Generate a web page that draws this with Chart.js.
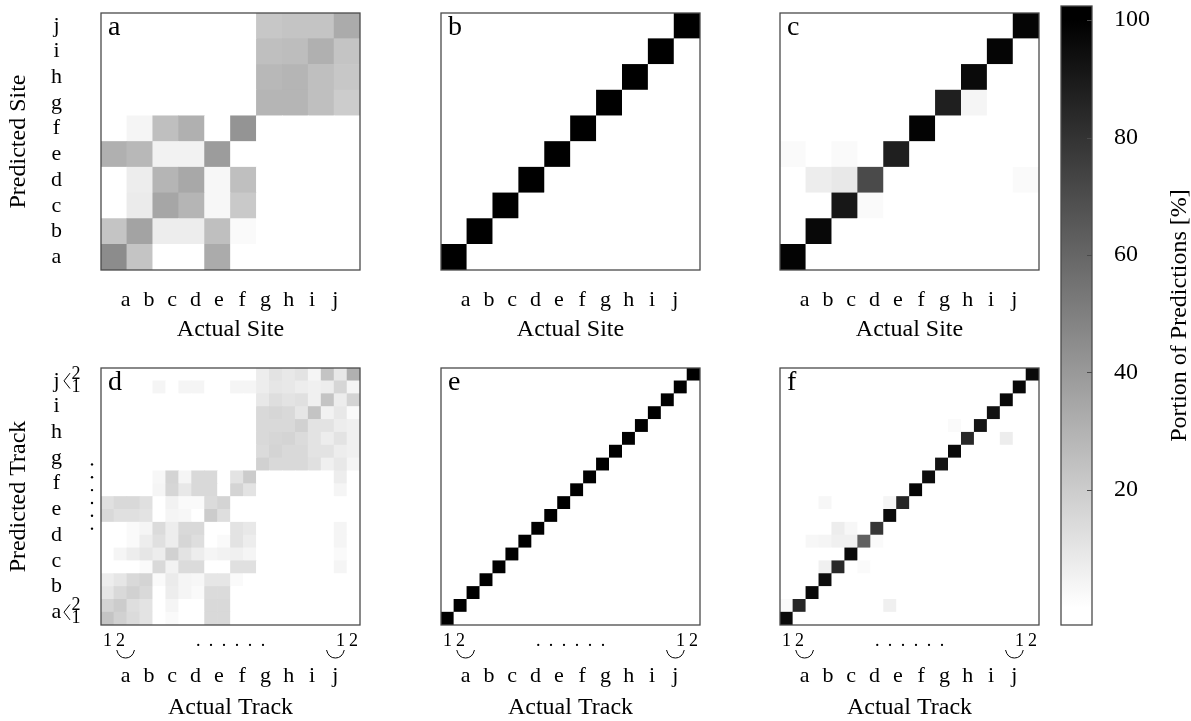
<!DOCTYPE html>
<html>
<head>
<meta charset="utf-8">
<script src="https://cdn.jsdelivr.net/npm/chart.js@4.4.0/dist/chart.umd.min.js"></script>
<style>
  html, body { margin: 0; background: #fff; }
  #wrap { position: relative; width: 1191px; height: 721px; overflow: hidden; background: #fff; }
  canvas { position: absolute; }
</style>
</head>
<body>
<div id="wrap">
  <canvas id="pa"></canvas>
  <canvas id="pb"></canvas>
  <canvas id="pc"></canvas>
  <canvas id="pd"></canvas>
  <canvas id="pe"></canvas>
  <canvas id="pf"></canvas>
  <canvas id="cb"></canvas>
</div>
<script>
// ---- data ----
const siteLetters = ['a', 'b', 'c', 'd', 'e', 'f', 'g', 'h', 'i', 'j'];
// labels of the 20 tracks (two per site), shown on the track panels
const trackTicks = ['1', '2', '', '', '', '', '', '.', '.', '.', '.', '.', '.', '', '', '', '', '', '1', '2'];
const cbTicks = [20, 40, 60, 80, 100];
const cbRange = [-3, 102.4];
const cbTitle = 'Portion of Predictions [%]';

// rows = predicted (bottom 'a' first), columns = actual (a..j), values in %
const siteA = [
  [45, 23, 0, 0, 33, 0, 0, 0, 0, 0],
  [23, 36, 7, 7, 25, 2, 0, 0, 0, 0],
  [0, 8, 35, 29, 3, 21, 0, 0, 0, 0],
  [0, 7, 29, 34, 3, 25, 0, 0, 0, 0],
  [31, 28, 5, 5, 39, 0, 0, 0, 0, 0],
  [0, 4, 25, 31, 0, 42, 0, 0, 0, 0],
  [0, 0, 0, 0, 0, 0, 29, 29, 25, 20],
  [0, 0, 0, 0, 0, 0, 28, 29, 25, 22],
  [0, 0, 0, 0, 0, 0, 25, 26, 31, 23],
  [0, 0, 0, 0, 0, 0, 22, 23, 23, 33]
];
const siteBDiag = [100, 100, 100, 100, 100, 100, 100, 100, 100, 100];
const siteC = [
  [99, 0, 0, 0, 0, 0, 0, 0, 0, 0],
  [0, 97, 0, 0, 0, 0, 0, 0, 0, 0],
  [0, 0, 91, 2, 0, 0, 0, 0, 0, 0],
  [0, 7, 9, 71, 0, 0, 0, 0, 0, 2],
  [2, 0, 2, 0, 88, 0, 0, 0, 0, 0],
  [0, 0, 0, 0, 0, 99, 0, 0, 0, 0],
  [0, 0, 0, 0, 0, 0, 88, 4, 0, 0],
  [0, 0, 0, 0, 0, 0, 0, 96, 0, 0],
  [0, 0, 0, 0, 0, 0, 0, 0, 98, 0],
  [0, 0, 0, 0, 0, 0, 0, 0, 0, 98]
];
const trackD = [
  [23, 18, 14, 11, 0, 2, 0, 0, 15, 15, 0, 0, 0, 0, 0, 0, 0, 0, 0, 0],
  [17, 20, 13, 11, 0, 4, 0, 0, 15, 15, 0, 0, 0, 0, 0, 0, 0, 0, 0, 0],
  [10, 15, 18, 15, 0, 7, 4, 2, 14, 14, 0, 0, 0, 0, 0, 0, 0, 0, 0, 0],
  [7, 10, 15, 17, 2, 8, 4, 3, 10, 10, 2, 0, 0, 0, 0, 0, 0, 0, 0, 0],
  [0, 0, 0, 2, 15, 5, 14, 14, 0, 0, 12, 12, 0, 0, 0, 0, 0, 0, 4, 0],
  [0, 4, 7, 10, 7, 18, 11, 7, 4, 5, 6, 4, 0, 0, 0, 0, 0, 0, 2, 0],
  [0, 0, 2, 7, 12, 7, 16, 13, 0, 2, 11, 7, 0, 0, 0, 0, 0, 0, 4, 0],
  [0, 0, 2, 4, 14, 7, 15, 15, 0, 0, 11, 9, 0, 0, 0, 0, 0, 0, 4, 0],
  [15, 12, 12, 11, 0, 4, 3, 0, 20, 13, 0, 0, 0, 0, 0, 0, 0, 0, 0, 0],
  [12, 15, 15, 12, 0, 5, 2, 2, 14, 17, 0, 0, 0, 0, 0, 0, 0, 0, 0, 0],
  [0, 0, 0, 0, 4, 16, 9, 15, 15, 0, 17, 11, 0, 0, 0, 0, 0, 0, 4, 0],
  [0, 0, 0, 0, 3, 17, 4, 15, 15, 0, 11, 20, 0, 0, 0, 0, 0, 0, 7, 0],
  [0, 0, 0, 0, 0, 0, 0, 0, 0, 0, 0, 0, 18, 15, 15, 15, 12, 6, 9, 4],
  [0, 0, 0, 0, 0, 0, 0, 0, 0, 0, 0, 0, 14, 17, 15, 15, 11, 11, 7, 6],
  [0, 0, 0, 0, 0, 0, 0, 0, 0, 0, 0, 0, 15, 16, 17, 14, 11, 7, 11, 6],
  [0, 0, 0, 0, 0, 0, 0, 0, 0, 0, 0, 0, 15, 15, 15, 18, 11, 11, 7, 6],
  [0, 0, 0, 0, 0, 0, 0, 0, 0, 0, 0, 0, 15, 16, 15, 10, 23, 5, 9, 2],
  [0, 0, 0, 0, 0, 0, 0, 0, 0, 0, 0, 0, 9, 13, 11, 12, 6, 23, 7, 17],
  [0, 0, 0, 0, 4, 0, 4, 4, 0, 0, 4, 4, 7, 10, 9, 7, 6, 7, 16, 4],
  [0, 0, 0, 0, 0, 0, 0, 0, 0, 0, 0, 0, 7, 11, 9, 11, 4, 23, 9, 31]
];
const trackEDiag = [100, 100, 100, 100, 100, 100, 100, 100, 100, 100,
                    100, 100, 100, 100, 100, 100, 100, 100, 100, 100];
const trackF = [
  [96, 0, 0, 0, 0, 0, 0, 0, 0, 0, 0, 0, 0, 0, 0, 0, 0, 0, 0, 0],
  [2, 85, 0, 0, 0, 0, 0, 0, 6, 0, 0, 0, 0, 0, 0, 0, 0, 0, 0, 0],
  [0, 0, 96, 0, 0, 0, 0, 0, 0, 0, 0, 0, 0, 0, 0, 0, 0, 0, 0, 0],
  [0, 0, 0, 95, 0, 0, 0, 0, 0, 0, 0, 0, 0, 0, 0, 0, 0, 0, 0, 0],
  [0, 0, 0, 6, 84, 0, 2, 0, 0, 0, 0, 0, 0, 0, 0, 0, 0, 0, 0, 0],
  [0, 0, 0, 0, 0, 96, 0, 0, 0, 0, 0, 0, 0, 0, 0, 0, 0, 0, 0, 0],
  [0, 0, 3, 4, 6, 6, 62, 2, 0, 0, 0, 0, 0, 0, 0, 0, 0, 0, 0, 0],
  [0, 0, 0, 0, 7, 3, 0, 79, 0, 0, 0, 0, 0, 0, 0, 0, 0, 0, 0, 0],
  [0, 0, 0, 0, 0, 0, 0, 0, 96, 0, 0, 0, 0, 0, 0, 0, 0, 0, 0, 0],
  [0, 0, 0, 3, 0, 0, 0, 0, 4, 85, 0, 0, 0, 0, 0, 0, 0, 0, 0, 0],
  [0, 0, 0, 0, 0, 0, 0, 0, 0, 0, 98, 0, 0, 0, 0, 0, 0, 0, 0, 0],
  [0, 0, 0, 0, 0, 0, 0, 0, 0, 0, 0, 95, 0, 0, 0, 0, 0, 0, 0, 0],
  [0, 0, 0, 0, 0, 0, 0, 0, 0, 0, 0, 0, 92, 0, 0, 0, 0, 0, 0, 0],
  [0, 0, 0, 0, 0, 0, 0, 0, 0, 0, 0, 0, 0, 96, 0, 0, 0, 0, 0, 0],
  [0, 0, 0, 0, 0, 0, 0, 0, 0, 0, 0, 0, 0, 0, 84, 0, 0, 7, 0, 0],
  [0, 0, 0, 0, 0, 0, 0, 0, 0, 0, 0, 0, 0, 2, 0, 92, 0, 0, 0, 0],
  [0, 0, 0, 0, 0, 0, 0, 0, 0, 0, 0, 0, 0, 0, 0, 0, 93, 0, 0, 0],
  [0, 0, 0, 0, 0, 0, 0, 0, 0, 0, 0, 0, 0, 0, 0, 0, 0, 97, 0, 0],
  [0, 0, 0, 0, 0, 0, 0, 0, 0, 0, 0, 0, 0, 0, 0, 0, 0, 0, 97, 0],
  [0, 0, 0, 0, 0, 0, 0, 0, 0, 0, 0, 0, 0, 0, 0, 0, 0, 0, 0, 96]
];

// ---- helpers ----
const serif = "'Liberation Serif', 'DejaVu Serif', serif";

function gray(v) {
  const g = Math.round(255 * (1 - Math.max(0, Math.min(v, 100)) / 100));
  return `rgb(${g},${g},${g})`;
}

function fromDiag(diag) {
  return diag.map((v, r) => diag.map((_, c) => (r === c ? v : 0)));
}

const framePlugin = {
  id: 'frame',
  afterDatasetsDraw(chart) {
    const { ctx, chartArea: a } = chart;
    ctx.save();
    ctx.strokeStyle = '#4a4a4a';
    ctx.lineWidth = 1.3;
    ctx.strokeRect(a.left, a.top, a.right - a.left, a.bottom - a.top);
    ctx.restore();
  }
};

const tagPlugin = {
  id: 'tag',
  afterDraw(chart, args, opts) {
    if (!opts.text) return;
    const { ctx, chartArea: a } = chart;
    ctx.save();
    ctx.font = `28px ${serif}`;
    ctx.fillStyle = '#000';
    ctx.textBaseline = 'alphabetic';
    ctx.fillText(opts.text, a.left + 7, a.top + 22);
    ctx.restore();
  }
};

// braces under the track pairs, and the track marks beside the y letters
const trackPlugin = {
  id: 'trackMarks',
  afterDraw(chart, args, opts) {
    if (!opts.on) return;
    const { ctx, chartArea: a } = chart;
    const xs = chart.scales.xl, ys = chart.scales.yl;
    ctx.save();
    ctx.strokeStyle = '#000';
    ctx.fillStyle = '#000';
    ctx.lineWidth = 1;
    [0, 9].forEach(k => {
      const x1 = xs.getPixelForValue(k + 0.12), x2 = xs.getPixelForValue(k + 0.88);
      const xm = (x1 + x2) / 2, y0 = a.bottom + 25, d = 8;
      ctx.beginPath();
      ctx.moveTo(x1, y0);
      ctx.quadraticCurveTo(x1 + 2, y0 + d, xm, y0 + d);
      ctx.quadraticCurveTo(x2 - 2, y0 + d, x2, y0);
      ctx.stroke();
    });
    if (opts.ySide) {
      ctx.font = `18px ${serif}`;
      ctx.textAlign = 'center';
      ctx.textBaseline = 'middle';
      trackTicks.forEach((t, i) => {
        const y = ys.getPixelForValue((i + 0.5) / 2);
        if (t === '.') {
          ctx.beginPath();
          ctx.arc(a.left - 9, y, 1.2, 0, Math.PI * 2);
          ctx.fill();
        } else if (t) {
          ctx.fillText(t, a.left - 25, y);
        }
      });
      [0, 9].forEach(k => {
        const yt = ys.getPixelForValue(k + 0.8), yb = ys.getPixelForValue(k + 0.2);
        const ym = ys.getPixelForValue(k + 0.5);
        ctx.beginPath();
        ctx.moveTo(a.left - 31, yt);
        ctx.lineTo(a.left - 37, ym);
        ctx.lineTo(a.left - 31, yb);
        ctx.stroke();
      });
    }
    ctx.restore();
  }
};

function makePanel(id, spec) {
  const n = spec.matrix.length;
  const isTrack = n === 20;
  const axisH = isTrack ? 77 : 78;
  const cv = document.getElementById(id);
  cv.width = 101 + 259 + 12;
  cv.height = 13 + 257 + (isTrack ? 24 : 0) + axisH;
  cv.style.left = (spec.left - 101) + 'px';
  cv.style.top = (spec.top - 13) + 'px';

  const datasets = spec.matrix.map(row => ({
    data: row.map(() => 1),
    backgroundColor: row.map(gray),
    borderWidth: 0,
    categoryPercentage: 1,
    barPercentage: 1
  }));

  return new Chart(cv, {
    type: 'bar',
    data: { labels: spec.matrix[0].map((_, i) => String(i + 1)), datasets },
    options: {
      responsive: false,
      animation: false,
      devicePixelRatio: 1,
      events: [],
      layout: { padding: { left: 0, top: 13, right: 12, bottom: 0 } },
      plugins: {
        legend: { display: false },
        tooltip: { enabled: false },
        tag: { text: spec.tag },
        trackMarks: { on: isTrack, ySide: !!spec.yTitle }
      },
      scales: {
        x: {
          stacked: true,
          display: isTrack,
          weight: 0,
          grid: { display: false, drawTicks: false },
          border: { display: false },
          ticks: {
            autoSkip: false, maxRotation: 0, padding: 5, color: '#000',
            font: { family: serif, size: 18 },
            callback: (v, i) => trackTicks[i]
          },
          afterFit: s => { if (isTrack) s.height = 24; }
        },
        y: { stacked: true, display: false, min: 0, max: n },
        xl: {
          type: 'linear', position: 'bottom', weight: 1, min: 0, max: 10,
          grid: { display: false, drawTicks: false },
          border: { display: false },
          afterBuildTicks: s => { s.ticks = siteLetters.map((_, i) => ({ value: i + 0.5 })); },
          ticks: {
            autoSkip: false, maxRotation: 0, padding: isTrack ? 14 : 17, color: '#000',
            font: { family: serif, size: 22 },
            callback: (v, i) => siteLetters[i]
          },
          title: {
            display: true, text: spec.xTitle, color: '#000',
            font: { family: serif, size: 24 }, padding: { top: 0, bottom: 4 }
          },
          afterFit: s => { s.height = axisH; }
        },
        yl: {
          type: 'linear', position: 'left', min: 0, max: 10,
          grid: { display: false, drawTicks: false },
          border: { display: false },
          afterBuildTicks: s => { s.ticks = siteLetters.map((_, i) => ({ value: i + 0.5 })); },
          ticks: {
            display: !!spec.yTitle, autoSkip: false, crossAlign: 'center', padding: 39,
            color: '#000', font: { family: serif, size: 22 },
            callback: (v, i) => siteLetters[i]
          },
          title: {
            display: !!spec.yTitle, text: spec.yTitle || '', color: '#000',
            font: { family: serif, size: 24 }, padding: { top: 4, bottom: 0 }
          },
          afterFit: s => { s.width = 101; s.paddingTop = 0; s.paddingBottom = 0; }
        }
      }
    },
    plugins: [framePlugin, tagPlugin, trackPlugin]
  });
}

makePanel('pa', { matrix: siteA, tag: 'a', left: 101, top: 13, xTitle: 'Actual Site', yTitle: 'Predicted Site' });
makePanel('pb', { matrix: fromDiag(siteBDiag), tag: 'b', left: 441, top: 13, xTitle: 'Actual Site' });
makePanel('pc', { matrix: siteC, tag: 'c', left: 780, top: 13, xTitle: 'Actual Site' });
makePanel('pd', { matrix: trackD, tag: 'd', left: 101, top: 368, xTitle: 'Actual Track', yTitle: 'Predicted Track' });
makePanel('pe', { matrix: fromDiag(trackEDiag), tag: 'e', left: 441, top: 368, xTitle: 'Actual Track' });
makePanel('pf', { matrix: trackF, tag: 'f', left: 780, top: 368, xTitle: 'Actual Track' });

// ---- colour bar ----
const cbTitlePlugin = {
  id: 'cbTitle',
  afterDraw(chart) {
    const { ctx, chartArea: a } = chart;
    const ys = chart.scales.y;
    ctx.save();
    // small inner tick marks on the right edge
    ctx.strokeStyle = '#4a4a4a';
    ctx.lineWidth = 1;
    cbTicks.forEach(v => {
      const y = Math.round(ys.getPixelForValue(v)) + 0.5;
      ctx.beginPath();
      ctx.moveTo(a.right - 5, y);
      ctx.lineTo(a.right, y);
      ctx.stroke();
    });
    ctx.translate(a.right + 88, (a.top + a.bottom) / 2);
    ctx.rotate(-Math.PI / 2);
    ctx.font = `24px ${serif}`;
    ctx.fillStyle = '#000';
    ctx.textAlign = 'center';
    ctx.textBaseline = 'middle';
    ctx.fillText(cbTitle, 0, 0);
    ctx.restore();
  }
};

const cbCanvas = document.getElementById('cb');
cbCanvas.width = 151;
cbCanvas.height = 640;
cbCanvas.style.left = '1040px';
cbCanvas.style.top = '0px';

new Chart(cbCanvas, {
  type: 'bar',
  data: {
    labels: [''],
    datasets: [{
      data: [cbRange],
      borderWidth: 0,
      categoryPercentage: 1,
      barPercentage: 1,
      backgroundColor: c => {
        const chart = c.chart;
        if (!chart.chartArea) return '#888';
        const ys = chart.scales.y;
        const g = chart.ctx.createLinearGradient(0, ys.getPixelForValue(0), 0, ys.getPixelForValue(100));
        g.addColorStop(0, '#ffffff');
        g.addColorStop(1, '#000000');
        return g;
      }
    }]
  },
  options: {
    responsive: false,
    animation: false,
    devicePixelRatio: 1,
    events: [],
    layout: { padding: { left: 21, top: 6, right: 0, bottom: 15 } },
    plugins: { legend: { display: false }, tooltip: { enabled: false } },
    scales: {
      x: { display: false },
      y: {
        position: 'right', min: cbRange[0], max: cbRange[1],
        grid: { display: false, drawTicks: false },
        border: { display: false },
        afterBuildTicks: s => { s.ticks = cbTicks.map(v => ({ value: v })); },
        ticks: { padding: 22, color: '#000', font: { family: serif, size: 24 } },
        afterFit: s => { s.width = 99; s.paddingTop = 0; s.paddingBottom = 0; }
      }
    }
  },
  plugins: [framePlugin, cbTitlePlugin]
});
</script>
</body>
</html>
